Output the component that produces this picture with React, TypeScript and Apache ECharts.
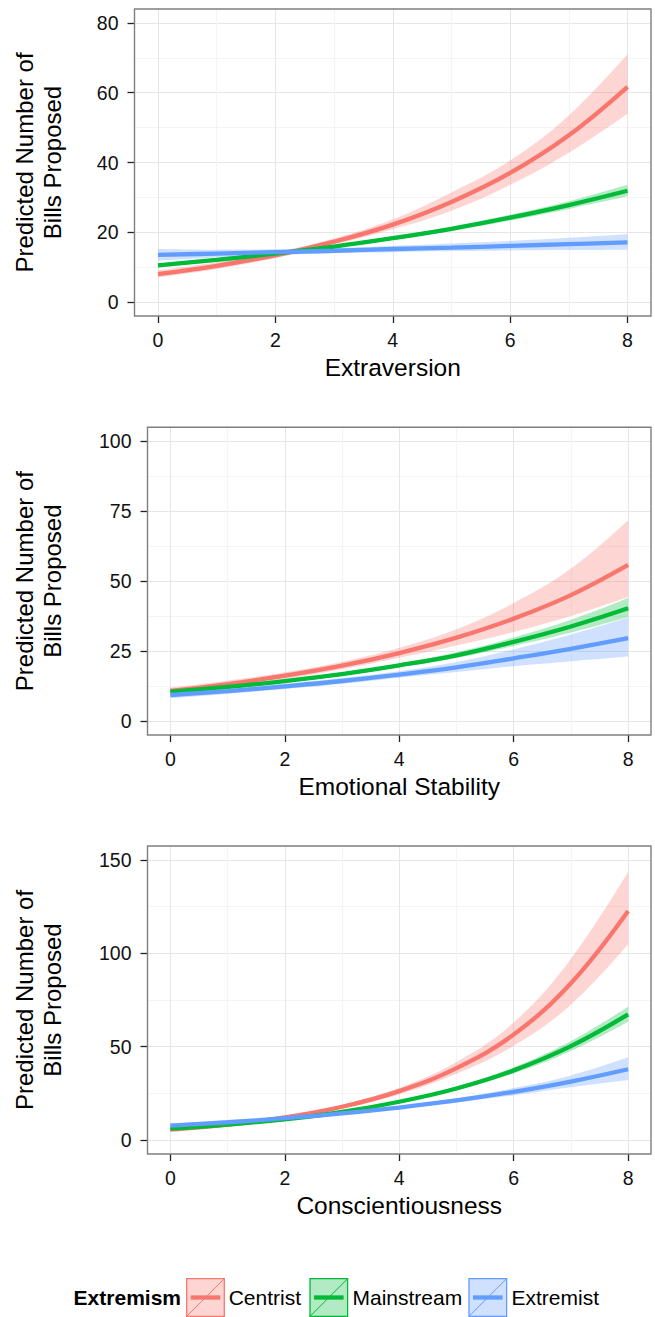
import React, { useEffect, useRef } from "react";
import * as echarts from "echarts";

// ---------- data ----------
const xValues = [0, 1, 2, 3, 4, 5, 6, 7, 8];
const groupNames = ["Centrist", "Mainstream", "Extremist"];
const legendTitle = "Extremism";
const xTitles = ["Extraversion", "Emotional Stability", "Conscientiousness"];
const yTitle = "Predicted Number of\nBills Proposed";

const xTickValues = [0, 2, 4, 6, 8];
const yTicksExtra = [0, 20, 40, 60, 80];
const yTicksEmo = [0, 25, 50, 75, 100];
const yTicksCons = [0, 50, 100, 150];

// Extraversion
const extraCentrist = [8.0, 10.4, 13.4, 17.3, 22.2, 28.7, 37.0, 47.8, 61.7];
const extraCentristLo = [7.1, 9.5, 12.6, 16.5, 20.9, 26.2, 33.6, 42.8, 54.0];
const extraCentristHi = [9.1, 11.4, 14.3, 18.2, 23.7, 31.4, 40.6, 53.5, 71.0];
const extraMainstream = [10.5, 12.1, 13.9, 15.9, 18.3, 21.0, 24.2, 27.8, 31.9];
const extraMainstreamLo = [9.9, 11.6, 13.5, 15.5, 17.8, 20.4, 23.4, 26.7, 30.3];
const extraMainstreamHi = [11.1, 12.6, 14.3, 16.3, 18.8, 21.6, 25.0, 28.9, 33.6];
const extraExtremist = [13.5, 13.9, 14.3, 14.7, 15.2, 15.6, 16.1, 16.6, 17.1];
const extraExtremistLo = [11.9, 12.8, 13.5, 14.0, 14.3, 14.6, 14.8, 14.9, 15.0];
const extraExtremistHi = [15.2, 15.0, 15.1, 15.5, 16.1, 16.8, 17.5, 18.4, 19.4];

// Emotional Stability
const emoCentrist = [10.8, 13.2, 16.2, 19.8, 24.3, 29.8, 36.6, 45.0, 55.8];
const emoCentristLo = [9.7, 12.1, 15.0, 18.5, 22.6, 27.0, 31.8, 37.5, 44.3];
const emoCentristHi = [12.0, 14.4, 17.4, 21.2, 26.2, 32.8, 42.2, 54.5, 71.8];
const emoMainstream = [10.5, 12.2, 14.3, 16.8, 19.9, 23.5, 28.3, 33.8, 40.3];
const emoMainstreamLo = [9.9, 11.6, 13.7, 16.2, 19.2, 22.5, 26.8, 31.6, 37.2];
const emoMainstreamHi = [11.1, 12.8, 14.9, 17.4, 20.6, 24.6, 29.9, 36.2, 44.0];
const emoExtremist = [9.3, 10.7, 12.4, 14.3, 16.6, 19.2, 22.4, 25.8, 29.6];
const emoExtremistLo = [8.2, 9.7, 11.4, 13.3, 15.5, 17.5, 19.6, 21.4, 23.1];
const emoExtremistHi = [10.5, 11.8, 13.4, 15.4, 17.8, 21.1, 25.6, 30.9, 37.0];

// Conscientiousness
const consCentrist = [5.6, 8.2, 12.1, 17.8, 26.2, 38.5, 56.5, 84.0, 122.7];
const consCentristLo = [4.8, 7.3, 11.3, 16.8, 24.5, 35.5, 50.5, 72.5, 104.8];
const consCentristHi = [6.5, 9.1, 13.0, 18.9, 28.0, 41.8, 63.0, 97.0, 143.7];
const consMainstream = [6.1, 8.2, 11.1, 15.0, 20.5, 27.6, 37.3, 50.3, 67.3];
const consMainstreamLo = [5.5, 7.6, 10.6, 14.5, 19.8, 26.6, 35.7, 47.7, 63.4];
const consMainstreamHi = [6.8, 8.8, 11.6, 15.5, 21.2, 28.6, 38.9, 53.0, 71.4];
const consExtremist = [7.7, 9.5, 11.7, 14.3, 17.4, 21.2, 25.8, 31.3, 37.9];
const consExtremistLo = [6.5, 8.5, 10.9, 13.7, 16.7, 20.1, 23.9, 28.2, 32.1];
const consExtremistHi = [8.9, 10.5, 12.5, 14.9, 18.1, 22.3, 27.8, 34.6, 44.3];

// ---------- styling ----------
const lineColors = ["#F8766D", "#00BA38", "#619CFF"];
const ribbonColors = ["rgba(248,118,109,0.3)", "rgba(0,186,56,0.3)", "rgba(97,156,255,0.3)"];
const FONT = "'Liberation Sans', Arial, Helvetica, sans-serif";

const panelLayout = [
  { left: 134.5, top: 9, width: 516.5, height: 307, yMin: -4, yMax: 84, yStep: 20 },
  { left: 147.5, top: 427.3, width: 503.5, height: 307.7, yMin: -5, yMax: 105, yStep: 25 },
  { left: 147.5, top: 846, width: 503.5, height: 308, yMin: -7.5, yMax: 157.5, yStep: 50 },
];

const panels = [
  {
    fits: [extraCentrist, extraMainstream, extraExtremist],
    lows: [extraCentristLo, extraMainstreamLo, extraExtremistLo],
    highs: [extraCentristHi, extraMainstreamHi, extraExtremistHi],
    yTicks: yTicksExtra,
  },
  {
    fits: [emoCentrist, emoMainstream, emoExtremist],
    lows: [emoCentristLo, emoMainstreamLo, emoExtremistLo],
    highs: [emoCentristHi, emoMainstreamHi, emoExtremistHi],
    yTicks: yTicksEmo,
  },
  {
    fits: [consCentrist, consMainstream, consExtremist],
    lows: [consCentristLo, consMainstreamLo, consExtremistLo],
    highs: [consCentristHi, consMainstreamHi, consExtremistHi],
    yTicks: yTicksCons,
  },
];

const SMOOTH = 0.4;

function buildOption() {
  const grid: any[] = [];
  const xAxis: any[] = [];
  const yAxis: any[] = [];
  const series: any[] = [];
  const graphic: any[] = [];

  panels.forEach((panel, p) => {
    const L = panelLayout[p];
    grid.push({
      left: L.left,
      top: L.top,
      width: L.width,
      height: L.height,
      show: false,
      containLabel: false,
    });
    xAxis.push({
      gridIndex: p,
      type: "value",
      position: "bottom",
      min: -0.4,
      max: 8.4,
      minInterval: 2,
      maxInterval: 2,
      axisLine: { show: false, onZero: false },
      axisTick: {
        show: true,
        length: 7,
        customValues: xTickValues,
        lineStyle: { color: "#222", width: 1.3 },
      },
      axisLabel: {
        customValues: xTickValues,
        margin: 14,
        fontSize: 19.5,
        fontFamily: FONT,
        color: "#111",
      },
      splitLine: { show: true, lineStyle: { color: "#e6e6e6", width: 1 } },
      minorTick: { show: false, splitNumber: 2 },
      minorSplitLine: { show: true, lineStyle: { color: "#f4f4f4", width: 1.2 } },
    });
    yAxis.push({
      gridIndex: p,
      type: "value",
      position: "left",
      min: L.yMin,
      max: L.yMax,
      minInterval: L.yStep,
      maxInterval: L.yStep,
      axisLine: { show: false, onZero: false },
      axisTick: {
        show: true,
        length: 7,
        customValues: panel.yTicks,
        lineStyle: { color: "#222", width: 1.3 },
      },
      axisLabel: {
        customValues: panel.yTicks,
        margin: 16,
        fontSize: 19.5,
        fontFamily: FONT,
        color: "#111",
      },
      splitLine: { show: true, lineStyle: { color: "#e6e6e6", width: 1 } },
      minorTick: { show: false, splitNumber: 2 },
      minorSplitLine: { show: true, lineStyle: { color: "#f4f4f4", width: 1.2 } },
    });

    // ribbons (stacked: lower + (upper - lower)); rows are [y, x] and encoded
    groupNames.forEach((name, g) => {
      const lo = panel.lows[g];
      const hi = panel.highs[g];
      const stackId = `band-${p}-${g}`;
      series.push({
        name: `${name} lower`,
        type: "line",
        xAxisIndex: p,
        yAxisIndex: p,
        stack: stackId,
        encode: { x: 1, y: 0 },
        data: xValues.map((x, i) => [lo[i], x]),
        smooth: SMOOTH,
        symbol: "none",
        showSymbol: false,
        silent: true,
        lineStyle: { width: 0, opacity: 0 },
        z: 1,
      });
      series.push({
        name: `${name} band`,
        type: "line",
        xAxisIndex: p,
        yAxisIndex: p,
        stack: stackId,
        encode: { x: 1, y: 0 },
        data: xValues.map((x, i) => [hi[i] - lo[i], x]),
        smooth: SMOOTH,
        symbol: "none",
        showSymbol: false,
        silent: true,
        lineStyle: { width: 0, opacity: 0 },
        areaStyle: { color: ribbonColors[g], opacity: 1 },
        z: 1,
      });
    });
    // fitted lines
    groupNames.forEach((name, g) => {
      const fit = panel.fits[g];
      series.push({
        name,
        type: "line",
        xAxisIndex: p,
        yAxisIndex: p,
        data: xValues.map((x, i) => [x, fit[i]]),
        smooth: SMOOTH,
        symbol: "none",
        showSymbol: false,
        silent: true,
        lineStyle: { color: lineColors[g], width: 4.3, cap: "butt" },
        z: 3,
      });
    });

    // panel border
    graphic.push({
      type: "rect",
      silent: true,
      z: 100,
      shape: { x: L.left, y: L.top, width: L.width, height: L.height },
      style: { fill: "none", stroke: "#7f7f7f", lineWidth: 1.4 },
    });
    // y title
    graphic.push({
      type: "text",
      silent: true,
      x: 38.5,
      y: L.top + L.height / 2,
      rotation: Math.PI / 2,
      style: {
        text: yTitle,
        fontSize: 24,
        lineHeight: 28.5,
        fontFamily: FONT,
        fill: "#000",
        align: "center",
        verticalAlign: "middle",
      },
    });
    // x title
    graphic.push({
      type: "text",
      silent: true,
      x: L.left + L.width / 2,
      y: L.top + L.height + 51,
      style: {
        text: xTitles[p],
        fontSize: 24.5,
        fontFamily: FONT,
        fill: "#000",
        align: "center",
        verticalAlign: "middle",
      },
    });
  });

  // legend (drawn as graphic keys)
  const keyY = 1278.7;
  const keySize = 37.6;
  const keyXs = [186.7, 310, 469];
  const labelXs = [228.7, 352.5, 511.5];
  const legendCY = 1297.3;
  graphic.push({
    type: "text",
    silent: true,
    x: 73.6,
    y: legendCY,
    style: {
      text: legendTitle,
      fontSize: 21,
      fontWeight: "bold",
      fontFamily: FONT,
      fill: "#000",
      align: "left",
      verticalAlign: "middle",
    },
  });
  groupNames.forEach((name, g) => {
    const kx = keyXs[g];
    graphic.push({
      type: "rect",
      silent: true,
      shape: { x: kx, y: keyY, width: keySize, height: keySize },
      style: { fill: ribbonColors[g], stroke: lineColors[g], lineWidth: 1.3, opacity: 1 },
    });
    graphic.push({
      type: "line",
      silent: true,
      shape: { x1: kx, y1: keyY + keySize, x2: kx + keySize, y2: keyY },
      style: { stroke: lineColors[g], lineWidth: 1 },
    });
    graphic.push({
      type: "line",
      silent: true,
      shape: { x1: kx + 4, y1: keyY + keySize / 2, x2: kx + keySize - 4, y2: keyY + keySize / 2 },
      style: { stroke: lineColors[g], lineWidth: 4.3 },
    });
    graphic.push({
      type: "text",
      silent: true,
      x: labelXs[g],
      y: legendCY,
      style: {
        text: name,
        fontSize: 21,
        fontFamily: FONT,
        fill: "#000",
        align: "left",
        verticalAlign: "middle",
      },
    });
  });

  return {
    animation: false,
    backgroundColor: "#ffffff",
    grid,
    xAxis,
    yAxis,
    series,
    graphic,
  };
}

export default function App() {
  const ref = useRef<HTMLDivElement>(null);
  useEffect(() => {
    document.body.style.margin = "0";
    const chart = echarts.init(ref.current as HTMLDivElement, null, { renderer: "svg" });
    chart.setOption(buildOption() as any);
    return () => {
      chart.dispose();
    };
  }, []);
  return <div ref={ref} style={{ width: 655, height: 1317 }} />;
}
